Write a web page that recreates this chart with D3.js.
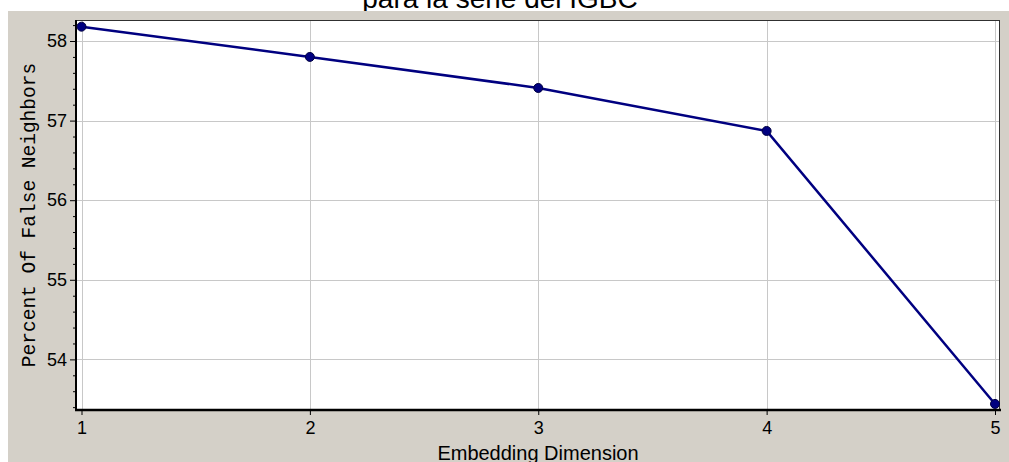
<!DOCTYPE html>
<html><head><meta charset="utf-8">
<script src="https://cdn.jsdelivr.net/npm/d3@7"></script>
<style>html,body{margin:0;padding:0;background:#fff;overflow:hidden}</style>
</head><body>
<svg id="c" width="1009" height="462"></svg>
<script>
const dims = [1, 2, 3, 4, 5];
const fnnPercent = [58.18, 57.80, 57.41, 56.87, 53.44];
const yTicks = [54, 55, 56, 57, 58];
const xTicks = [1, 2, 3, 4, 5];
const titleText = "para la serie del IGBC";
const xLabel = "Embedding Dimension";
const yLabel = "Percent Of False Neighbors";

const svg = d3.select("#c");
const L = 76, R = 1000, T = 20, B = 410;

// title (partially hidden by panel)
svg.append("text").attr("x", 500).attr("y", 8).attr("text-anchor", "middle")
  .attr("font-family", "Liberation Sans, Arial, sans-serif").attr("font-size", 28)
  .attr("fill", "#000").text(titleText);

svg.append("rect").attr("x", 8).attr("y", 11).attr("width", 1001).attr("height", 451).attr("fill", "#d4d0c8");

const x = d3.scaleLinear().domain([1, 5]).range([81.5, 995]);
const y = d3.scaleLinear().domain([53.364, 58.264]).range([B, T]);

svg.append("rect").attr("x", L).attr("y", T).attr("width", R - L).attr("height", B - T).attr("fill", "#fff");

// grid
const g = svg.append("g");
g.selectAll("line.h").data(yTicks).join("line")
  .attr("x1", L).attr("x2", R).attr("y1", d => Math.round(y(d)) + 0.5).attr("y2", d => Math.round(y(d)) + 0.5)
  .attr("stroke", "#c8c8c8").attr("stroke-width", 1);
g.selectAll("line.v").data(xTicks).join("line")
  .attr("y1", T).attr("y2", B).attr("x1", d => Math.round(x(d)) + 0.5).attr("x2", d => Math.round(x(d)) + 0.5)
  .attr("stroke", "#c8c8c8").attr("stroke-width", 1);

// border
svg.append("rect").attr("x", L + 0.5).attr("y", T + 0.5).attr("width", R - L - 1).attr("height", B - T - 1)
  .attr("fill", "none").attr("stroke", "#303030").attr("stroke-width", 1);
svg.append("line").attr("x1", L).attr("x2", L).attr("y1", T).attr("y2", B + 1)
  .attr("stroke", "#000").attr("stroke-width", 2);
svg.append("line").attr("x1", L - 1).attr("x2", R + 1).attr("y1", B).attr("y2", B)
  .attr("stroke", "#000").attr("stroke-width", 2.5);

// axes
const tickFont = "Liberation Sans Narrow, Arial Narrow, Liberation Sans, Arial, sans-serif";
const yAxis = d3.axisLeft(y).tickValues(yTicks).tickFormat(d3.format("d")).tickSize(6).tickPadding(3);
const ya = svg.append("g").attr("transform", `translate(${L},0)`).call(yAxis);
const minor = d3.range(53.4, 58.25, 0.2).filter(v => Math.abs(v - Math.round(v)) > 0.01);
const yMinor = d3.axisLeft(y).tickValues(minor).tickFormat("").tickSize(3);
const ym = svg.append("g").attr("transform", `translate(${L},0)`).call(yMinor);
ym.select(".domain").remove();
ya.select(".domain").remove();
const xAxis = d3.axisBottom(x).tickValues(xTicks).tickFormat(d3.format("d")).tickSize(5).tickPadding(6);
const xa = svg.append("g").attr("transform", `translate(0,${B})`).call(xAxis);
xa.select(".domain").remove();
[ya, xa].forEach(a => {
  a.selectAll("text").attr("font-family", tickFont).attr("font-size", 18).attr("fill", "#000");
  a.selectAll("line").attr("stroke", "#000");
});
ym.selectAll("line").attr("stroke", "#000");

// axis titles
svg.append("text").attr("x", 538).attr("y", 460).attr("text-anchor", "middle")
  .attr("font-family", "Liberation Sans, Arial, sans-serif").attr("font-size", 20).attr("fill", "#000").text(xLabel);
svg.append("text").attr("transform", "translate(35,215) rotate(-90)").attr("text-anchor", "middle")
  .attr("font-family", "Liberation Mono, Courier New, monospace").attr("font-size", 19.5).attr("fill", "#000").text(yLabel);

// series
const data = dims.map((d, i) => ({ d, v: fnnPercent[i] }));
svg.append("path").datum(data)
  .attr("d", d3.line().x(p => x(p.d)).y(p => y(p.v)))
  .attr("fill", "none").attr("stroke", "#000080").attr("stroke-width", 2.5);
svg.selectAll("circle.pt").data(data).join("circle")
  .attr("cx", p => x(p.d)).attr("cy", p => y(p.v)).attr("r", 4.5)
  .attr("fill", "#000080").attr("stroke", "#000040").attr("stroke-width", 1);
</script>
</body></html>
